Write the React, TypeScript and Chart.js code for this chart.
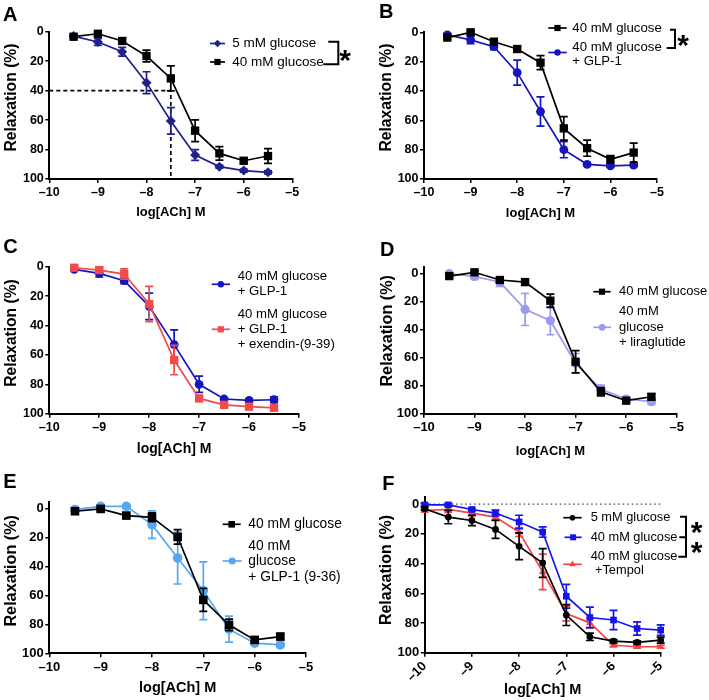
import React, { useEffect, useRef } from 'react';
import { Chart, registerables } from 'chart.js';

Chart.register(...registerables);

const CW = 709;
const CH = 700;
const FAMILY = "'Liberation Sans', Arial, Helvetica, sans-serif";

// ---------- shared axes ----------
const logDose = [-9.5, -9, -8.5, -8, -7.5, -7, -6.5, -6, -5.5];
const logDoseF = [-10, -9.5, -9, -8.5, -8, -7.5, -7, -6.5, -6, -5.5, -5];
const xTickValues = [-10, -9, -8, -7, -6, -5];
const yTickValues = [0, 20, 40, 60, 80, 100];
const xAxisTitle = 'log[ACh] M';
const yAxisTitle = 'Relaxation (%)';

// ---------- panel A ----------
const a5mM = [3, 7, 13.6, 34.6, 60.6, 83.7, 91.6, 94.3, 95.5];
const a5mMErr = [1, 2.3, 3, 7.4, 9, 3.6, 1, 1, 1];
const a40mM = [3.4, 1.4, 6.3, 16.5, 31.7, 67.2, 82.6, 87.6, 84.4];
const a40mMErr = [1, 1.5, 2, 4, 8.5, 7.4, 4.6, 2, 5];
const aGuideX = [-10, -7.5, -7.5];
const aGuideY = [40, 40, 100];

// ---------- panel B ----------
const b40mM = [3.6, 0, 6.4, 11.4, 20.7, 65.5, 79, 86.6, 82];
const b40mMErr = [1, 1, 1.5, 2, 4.8, 8, 5.5, 2.5, 6.5];
const bGlp1 = [1.8, 5.2, 9.8, 27.5, 54, 80, 90, 91, 90.5];
const bGlp1Err = [1, 2.5, 2, 8.5, 10, 5.5, 1, 1, 1];

// ---------- panel C ----------
const cGlp1 = [1.8, 4.5, 9.5, 27, 53, 80, 90, 91, 90.5];
const cGlp1Err = [1, 2.5, 2, 9, 10, 5.5, 1, 1, 2];
const cExendin = [0.7, 2.3, 5, 25.4, 63.5, 89.6, 94, 95.2, 96];
const cExendinErr = [1, 2, 3.5, 12, 10, 1.5, 1, 1, 1.5];

// ---------- panel D ----------
const d40mM = [1.7, -1, 4.5, 6, 19.3, 62.9, 84.3, 90.7, 87.9];
const d40mMErr = [1, 1, 1, 1, 4.7, 8, 3, 1, 2];
const dLira = [0, 2, 6, 25.5, 33.6, 64, 82.6, 89.5, 91.4];
const dLiraErr = [1, 2, 3, 11.5, 10, 7, 3, 1, 2];

// ---------- panel E ----------
const e40mM = [1.6, 0, 4.6, 5.8, 19.4, 63, 80.3, 90.7, 88.4];
const e40mMErr = [1, 1, 1, 3, 5, 8, 4, 1, 2];
const eGlp936 = [0.5, -1.8, -1.8, 10.9, 34, 56.7, 83.3, 93, 94.2];
const eGlp936Err = [1, 1, 1, 9.5, 18, 20, 9, 1, 1];

// ---------- panel F ----------
const f5mM = [3.1, 8.7, 11, 17, 28.4, 39.6, 74.7, 89.3, 92.2, 93, 91.5];
const f5mMErr = [1, 4.5, 3.5, 6, 9, 9.7, 7, 2.5, 1, 1, 2];
const f40mM = [0.5, 0.5, 3.6, 6, 12, 18.8, 62, 76.3, 78, 83.7, 84.8];
const f40mMErr = [1, 1, 1, 2, 4.5, 3.5, 8, 7, 6.5, 4.5, 3.5];
const fTempol = [4.3, 3.6, 6, 8.7, 18.8, 45.6, 73.6, 79.9, 95, 96, 96];
const fTempolErr = [1, 2, 2, 2, 3, 12, 5, 3, 1, 1, 1];
const fZeroX = [-10, -5];
const fZeroY = [0, 0];

// ---------- colours ----------
const BLACK = '#000000';
const NAVY = '#20208f';
const BLUE = '#1515c0';
const RED = '#f24b4b';
const LAVENDER = '#9a9af2';
const SKY = '#58a8f0';
const BRIGHT_BLUE = '#1414ee';
const BRIGHT_RED = '#f24545';

type Series = {
  x: number[]; y: number[]; err?: number[]; color: string; style?: string; r?: number;
  dash?: number[]; width?: number;
};
type LegendItem = {
  color: string; style: string; r: number; x0: number; x1: number; y: number;
  textX: number; lines: [string, number, number?][];
};
type Panel = {
  letter: string; letterX: number; letterY: number;
  area: { l: number; r: number; t: number; b: number };
  yMin: number; tickSize: number; xTitleSize: number; xTitleOffset: number; rotation: number;
  yTitleSize: number; yTitleX: number; yTitleY: number;
  series: Series[]; legend: LegendItem[]; legendSize: number;
  bracket?: { x: number; ticks: [number, number][]; stars: [number, number][] };
};

const panels: Panel[] = [
  {
    letter: 'A', letterX: 3, letterY: 21,
    area: { l: 49.3, r: 292.3, t: 31.7, b: 179 }, yMin: 0,
    tickSize: 12.5, xTitleSize: 13, xTitleOffset: 33.5, rotation: 0,
    yTitleSize: 15.7, yTitleX: 11.2, yTitleY: 97.5,
    series: [
      { x: logDose, y: a40mM, err: a40mMErr, color: BLACK, style: 'rect', r: 5.9 },
      { x: logDose, y: a5mM, err: a5mMErr, color: NAVY, style: 'rectRot', r: 5 },
      { x: aGuideX, y: aGuideY, color: BLACK, dash: [4, 3], r: 0 },
    ],
    legendSize: 13.5,
    legend: [
      { color: NAVY, style: 'rectRot', r: 3.8, x0: 210, x1: 225, y: 43.5, textX: 232.3, lines: [['5 mM glucose', 43.5]] },
      { color: BLACK, style: 'rect', r: 3.1, x0: 210, x1: 225, y: 62, textX: 232.3, lines: [['40 mM glucose', 62]] },
    ],
    bracket: { x: 338.3, ticks: [[328.3, 41.7], [323.3, 64.3]], stars: [[345, 53]] },
  },
  {
    letter: 'B', letterX: 379, letterY: 18,
    area: { l: 424, r: 657, t: 32.3, b: 179 }, yMin: 0,
    tickSize: 12.5, xTitleSize: 13, xTitleOffset: 34, rotation: 0,
    yTitleSize: 15.7, yTitleX: 386.5, yTitleY: 97.5,
    series: [
      { x: logDose, y: b40mM, err: b40mMErr, color: BLACK, style: 'rect', r: 5.9 },
      { x: logDose, y: bGlp1, err: bGlp1Err, color: BLUE, style: 'circle', r: 4.4 },
    ],
    legendSize: 13.2,
    legend: [
      { color: BLACK, style: 'rect', r: 3.1, x0: 548.3, x1: 566.7, y: 28, textX: 572.3, lines: [['40 mM glucose', 28]] },
      { color: BLUE, style: 'circle', r: 3.2, x0: 548.3, x1: 566.7, y: 52.5, textX: 572.3, lines: [['40 mM glucose', 47.3], ['+ GLP-1', 61.3]] },
    ],
    bracket: { x: 675, ticks: [[670, 29.7], [666.7, 48]], stars: [[683, 38]] },
  },
  {
    letter: 'C', letterX: 3.3, letterY: 253.3,
    area: { l: 49.3, r: 299, t: 266.7, b: 413.7 }, yMin: 0,
    tickSize: 12.5, xTitleSize: 14, xTitleOffset: 35.3, rotation: 0,
    yTitleSize: 15.6, yTitleX: 11.2, yTitleY: 333,
    series: [
      { x: logDose, y: cExendin, err: cExendinErr, color: RED, style: 'rect', r: 5.9 },
      { x: logDose, y: cGlp1, err: cGlp1Err, color: BLUE, style: 'circle', r: 4.4 },
    ],
    legendSize: 13.2,
    legend: [
      { color: BLUE, style: 'circle', r: 3.2, x0: 211.7, x1: 230, y: 284.3, textX: 237.7, lines: [['40 mM glucose', 276.7], ['+ GLP-1', 291.7]] },
      { color: RED, style: 'rect', r: 3.1, x0: 211.7, x1: 230, y: 329.3, textX: 237.7, lines: [['40 mM glucose', 314.3], ['+ GLP-1', 329.3], ['+ exendin-(9-39)', 344]] },
    ],
  },
  {
    letter: 'D', letterX: 380, letterY: 256,
    area: { l: 424, r: 676.7, t: 266.7, b: 413.7 }, yMin: -5,
    tickSize: 13, xTitleSize: 13, xTitleOffset: 37.3, rotation: 0,
    yTitleSize: 16.2, yTitleX: 387.3, yTitleY: 330.8,
    series: [
      { x: logDose, y: d40mM, err: d40mMErr, color: BLACK, style: 'rect', r: 5.9 },
      { x: logDose, y: dLira, err: dLiraErr, color: LAVENDER, style: 'circle', r: 4.6 },
    ],
    legendSize: 13,
    legend: [
      { color: BLACK, style: 'rect', r: 3.1, x0: 593.3, x1: 610.7, y: 291.7, textX: 619, lines: [['40 mM glucose', 291.7]] },
      { color: LAVENDER, style: 'circle', r: 3.4, x0: 593.3, x1: 611, y: 327.3, textX: 619, lines: [['40 mM', 311.7], ['glucose', 327.3], ['+ liraglutide', 342.7]] },
    ],
  },
  {
    letter: 'E', letterX: 3.3, letterY: 488.3,
    area: { l: 49.3, r: 306, t: 501.7, b: 653.3 }, yMin: -5,
    tickSize: 13, xTitleSize: 14.5, xTitleOffset: 34.4, rotation: 0,
    yTitleSize: 16.2, yTitleX: 11.2, yTitleY: 570.8,
    series: [
      { x: logDose, y: e40mM, err: e40mMErr, color: BLACK, style: 'rect', r: 6.1 },
      { x: logDose, y: eGlp936, err: eGlp936Err, color: SKY, style: 'circle', r: 4.8 },
    ],
    legendSize: 13.8,
    legend: [
      { color: BLACK, style: 'rect', r: 3.3, x0: 222.7, x1: 240.7, y: 524.3, textX: 248.3, lines: [['40 mM glucose', 524.3]] },
      { color: SKY, style: 'circle', r: 3.6, x0: 222.7, x1: 241.7, y: 561, textX: 248.3, lines: [['40 mM', 546], ['glucose', 561], ['+ GLP-1 (9-36)', 576.7]] },
    ],
  },
  {
    letter: 'F', letterX: 382.3, letterY: 490,
    area: { l: 424.7, r: 660.7, t: 496.7, b: 652.7 }, yMin: -5,
    tickSize: 13, xTitleSize: 14.5, xTitleOffset: 37.3, rotation: 45,
    yTitleSize: 16, yTitleX: 386.5, yTitleY: 570,
    series: [
      { x: logDoseF, y: f5mM, err: f5mMErr, color: BLACK, style: 'circle', r: 3.4 },
      { x: logDoseF, y: f40mM, err: f40mMErr, color: BRIGHT_BLUE, style: 'rect', r: 4.7 },
      { x: logDoseF, y: fTempol, err: fTempolErr, color: BRIGHT_RED, style: 'triangle', r: 4.3 },
      { x: fZeroX, y: fZeroY, color: '#444444', dash: [1.5, 3], r: 0, width: 1.3 },
    ],
    legendSize: 12.8,
    legend: [
      { color: BLACK, style: 'circle', r: 2.8, x0: 563.3, x1: 581.7, y: 517.7, textX: 590.7, lines: [['5 mM glucose', 517.7]] },
      { color: BRIGHT_BLUE, style: 'rect', r: 3, x0: 564.5, x1: 581.7, y: 537.3, textX: 590.7, lines: [['40 mM glucose', 537.3]] },
      { color: BRIGHT_RED, style: 'triangle', r: 3.8, x0: 563.3, x1: 581.7, y: 564.3, textX: 590.7, lines: [['40 mM glucose', 556.7], ['+Tempol', 570, 595]] },
    ],
    bracket: { x: 686, ticks: [[680, 516.7], [679.3, 537.3], [678.3, 556.7]], stars: [[696.7, 525], [696.7, 545]] },
  },
];

function drawMarker(ctx: CanvasRenderingContext2D, style: string, x: number, y: number, r: number, color: string) {
  ctx.fillStyle = color;
  ctx.beginPath();
  if (style === 'circle') {
    ctx.arc(x, y, r, 0, Math.PI * 2);
  } else if (style === 'rect') {
    ctx.rect(x - r, y - r, 2 * r, 2 * r);
  } else if (style === 'rectRot') {
    ctx.moveTo(x, y - r); ctx.lineTo(x + r, y); ctx.lineTo(x, y + r); ctx.lineTo(x - r, y); ctx.closePath();
  } else if (style === 'triangle') {
    ctx.moveTo(x, y - r);
    ctx.lineTo(x + r * 0.866, y + r * 0.5);
    ctx.lineTo(x - r * 0.866, y + r * 0.5);
    ctx.closePath();
  }
  ctx.fill();
}

function decorPlugin(p: Panel) {
  return {
    id: 'decor' + p.letter,
    beforeDatasetDraw(chart: any, args: any) {
      const ds = chart.data.datasets[args.index];
      const err: number[] | undefined = ds.errors;
      if (!err) return;
      const ctx: CanvasRenderingContext2D = chart.ctx;
      const yScale = chart.scales.y;
      const cap = 4;
      ctx.save();
      ctx.strokeStyle = ds.borderColor;
      ctx.lineWidth = 1.7;
      args.meta.data.forEach((pt: any, i: number) => {
        const v = ds.data[i].y;
        const e = err[i];
        const y1 = yScale.getPixelForValue(v - e);
        const y2 = yScale.getPixelForValue(v + e);
        ctx.beginPath();
        ctx.moveTo(pt.x, y1); ctx.lineTo(pt.x, y2);
        ctx.moveTo(pt.x - cap, y1); ctx.lineTo(pt.x + cap, y1);
        ctx.moveTo(pt.x - cap, y2); ctx.lineTo(pt.x + cap, y2);
        ctx.stroke();
      });
      ctx.restore();
    },
    afterDraw(chart: any) {
      const ctx: CanvasRenderingContext2D = chart.ctx;
      ctx.save();
      // panel letter
      ctx.fillStyle = '#000';
      ctx.font = `bold 20px ${FAMILY}`;
      ctx.textAlign = 'left';
      ctx.textBaseline = 'alphabetic';
      ctx.fillText(p.letter, p.letterX, p.letterY);
      // y axis title
      ctx.save();
      ctx.translate(p.yTitleX, p.yTitleY);
      ctx.rotate(-Math.PI / 2);
      ctx.font = `bold ${p.yTitleSize}px ${FAMILY}`;
      ctx.textAlign = 'center';
      ctx.textBaseline = 'middle';
      ctx.fillText(yAxisTitle, 0, 0);
      ctx.restore();
      // legend
      p.legend.forEach((it) => {
        ctx.strokeStyle = it.color;
        ctx.lineWidth = 1.7;
        ctx.beginPath();
        ctx.moveTo(it.x0, it.y); ctx.lineTo(it.x1, it.y);
        ctx.stroke();
        drawMarker(ctx, it.style, (it.x0 + it.x1) / 2, it.y, it.r, it.color);
        ctx.fillStyle = '#000';
        ctx.font = `${p.legendSize}px ${FAMILY}`;
        ctx.textAlign = 'left';
        ctx.textBaseline = 'middle';
        it.lines.forEach(([t, y, x]) => ctx.fillText(t, x ?? it.textX, y));
      });
      // bracket + asterisks
      if (p.bracket) {
        const b = p.bracket;
        ctx.strokeStyle = '#000';
        ctx.lineWidth = 2;
        const ys = b.ticks.map((t) => t[1]);
        ctx.beginPath();
        ctx.moveTo(b.x, Math.min(...ys) - 1); ctx.lineTo(b.x, Math.max(...ys) + 1);
        b.ticks.forEach(([x0, y]) => { ctx.moveTo(x0, y); ctx.lineTo(b.x + 1, y); });
        ctx.stroke();
        const starSize = 30;
        ctx.font = `bold ${starSize}px ${FAMILY}`;
        ctx.textAlign = 'center';
        ctx.textBaseline = 'alphabetic';
        b.stars.forEach(([x, y]) => ctx.fillText('*', x, y + 0.58 * starSize));
      }
      ctx.restore();
    },
  };
}

function buildConfig(p: Panel): any {
  const yAxisW = 40;
  const xAxisH = p.xTitleOffset + (p.xTitleSize * 1.2) / 2;
  const tickFont = { family: FAMILY, size: p.tickSize, weight: 'bold' };
  const grid = { display: true, drawOnChartArea: false, drawTicks: true, tickLength: 4, color: '#000', lineWidth: 1.5 };
  const border = { display: true, color: '#000', width: 2 };
  const datasets = p.series.map((s) => ({
    data: s.x.map((x, i) => ({ x, y: s.y[i] })),
    errors: s.err,
    borderColor: s.color,
    backgroundColor: s.color,
    borderWidth: s.width ?? 1.7,
    borderDash: s.dash ?? [],
    pointStyle: s.style ?? 'circle',
    pointRadius: s.r ?? 0,
    pointHoverRadius: s.r ?? 0,
    pointBorderWidth: 0,
    pointBackgroundColor: s.color,
    tension: 0,
    fill: false,
    clip: false,
  }));
  return {
    type: 'line',
    data: { datasets },
    options: {
      animation: false,
      responsive: false,
      devicePixelRatio: 1,
      events: [],
      layout: {
        padding: {
          left: p.area.l - yAxisW,
          right: CW - p.area.r,
          top: p.area.t,
          bottom: CH - p.area.b - xAxisH,
        },
      },
      plugins: { legend: { display: false }, tooltip: { enabled: false }, title: { display: false } },
      scales: {
        x: {
          type: 'linear',
          min: -10,
          max: -5,
          afterBuildTicks: (s: any) => { s.ticks = xTickValues.map((v) => ({ value: v })); },
          afterFit: (s: any) => { s.height = xAxisH; },
          ticks: {
            color: '#000', font: tickFont, padding: 2, autoSkip: false,
            maxRotation: p.rotation, minRotation: p.rotation,
            callback: (v: number) => (v < 0 ? '\u2013' + Math.abs(v) : String(v)),
          },
          grid, border,
          title: { display: true, text: xAxisTitle, color: '#000', padding: 0, font: { family: FAMILY, size: p.xTitleSize, weight: 'bold' } },
        },
        y: {
          type: 'linear',
          reverse: true,
          min: p.yMin,
          max: 100,
          afterBuildTicks: (s: any) => { s.ticks = yTickValues.map((v) => ({ value: v })); },
          afterFit: (s: any) => { s.width = yAxisW; },
          ticks: { color: '#000', font: tickFont, padding: 1.5 },
          grid, border,
          title: { display: false },
        },
      },
    },
    plugins: [decorPlugin(p)],
  };
}

function PanelChart({ panel }: { panel: Panel }) {
  const ref = useRef<HTMLCanvasElement>(null);
  useEffect(() => {
    if (!ref.current) return;
    const chart = new Chart(ref.current, buildConfig(panel));
    return () => chart.destroy();
  }, [panel]);
  return (
    <canvas
      ref={ref}
      width={CW}
      height={CH}
      style={{ position: 'absolute', left: 0, top: 0, width: CW, height: CH }}
    />
  );
}

export default function App() {
  return (
    <div style={{ position: 'absolute', left: 0, top: 0, width: CW, height: CH, background: '#fff', overflow: 'hidden' }}>
      {panels.map((p) => (
        <PanelChart key={p.letter} panel={p} />
      ))}
    </div>
  );
}
